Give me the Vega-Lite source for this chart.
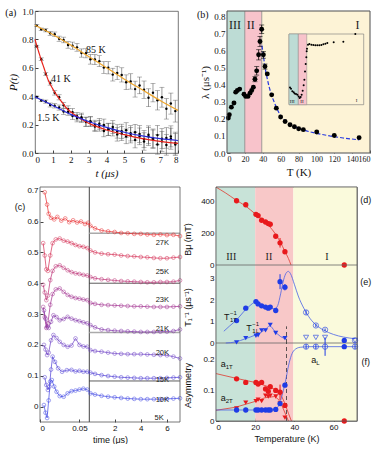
{
"$schema":"https://vega.github.io/schema/vega-lite/v6.json",
"padding":{"left":4,"top":6,"right":0,"bottom":0},
"background":"white",
"config":{
 "view":{"stroke":"#555","strokeWidth":0.8},
 "axis":{"grid":false,"domain":false,"labelOverlap":false,"labelFont":"Liberation Sans","titleFont":"Liberation Sans","labelFontSize":8,"titleFontSize":9,"titleFontWeight":"normal","labelColor":"#111","titleColor":"#111","tickColor":"#444","tickSize":-3,"labelPadding":5,"titlePadding":3},
 "text":{"font":"Liberation Sans","color":"#111"}
},
"datasets":{
 "a":[
{"s":"85 K","t":0.1,"P":0.897,"e":0.007},{"s":"85 K","t":0.35,"P":0.871,"e":0.009},{"s":"85 K","t":0.6,"P":0.864,"e":0.011},{"s":"85 K","t":0.85,"P":0.843,"e":0.014},{"s":"85 K","t":1.1,"P":0.836,"e":0.016},{"s":"85 K","t":1.35,"P":0.805,"e":0.018},{"s":"85 K","t":1.6,"P":0.796,"e":0.02},{"s":"85 K","t":1.85,"P":0.761,"e":0.023},{"s":"85 K","t":2.1,"P":0.756,"e":0.025},{"s":"85 K","t":2.35,"P":0.744,"e":0.027},{"s":"85 K","t":2.6,"P":0.704,"e":0.029},{"s":"85 K","t":2.85,"P":0.702,"e":0.032},{"s":"85 K","t":3.1,"P":0.66,"e":0.034},{"s":"85 K","t":3.35,"P":0.658,"e":0.036},{"s":"85 K","t":3.6,"P":0.647,"e":0.038},{"s":"85 K","t":3.85,"P":0.602,"e":0.041},{"s":"85 K","t":4.1,"P":0.6,"e":0.043},{"s":"85 K","t":4.35,"P":0.552,"e":0.045},{"s":"85 K","t":4.6,"P":0.564,"e":0.047},{"s":"85 K","t":4.85,"P":0.55,"e":0.05},{"s":"85 K","t":5.1,"P":0.498,"e":0.052},{"s":"85 K","t":5.35,"P":0.504,"e":0.054},{"s":"85 K","t":5.6,"P":0.45,"e":0.056},{"s":"85 K","t":5.85,"P":0.476,"e":0.059},{"s":"85 K","t":6.1,"P":0.446,"e":0.061},{"s":"85 K","t":6.35,"P":0.389,"e":0.063},{"s":"85 K","t":6.6,"P":0.425,"e":0.065},{"s":"85 K","t":6.85,"P":0.371,"e":0.068},{"s":"85 K","t":7.1,"P":0.393,"e":0.07},{"s":"85 K","t":7.35,"P":0.311,"e":0.072},{"s":"85 K","t":7.6,"P":0.348,"e":0.074},{"s":"85 K","t":7.85,"P":0.295,"e":0.077},
{"s":"41 K","t":0.1,"P":0.752,"e":0.007},{"s":"41 K","t":0.35,"P":0.661,"e":0.009},{"s":"41 K","t":0.6,"P":0.557,"e":0.011},{"s":"41 K","t":0.85,"P":0.492,"e":0.014},{"s":"41 K","t":1.1,"P":0.424,"e":0.016},{"s":"41 K","t":1.35,"P":0.392,"e":0.018},{"s":"41 K","t":1.6,"P":0.336,"e":0.02},{"s":"41 K","t":1.85,"P":0.309,"e":0.023},{"s":"41 K","t":2.1,"P":0.288,"e":0.025},{"s":"41 K","t":2.35,"P":0.246,"e":0.027},{"s":"41 K","t":2.6,"P":0.244,"e":0.029},{"s":"41 K","t":2.85,"P":0.218,"e":0.032},{"s":"41 K","t":3.1,"P":0.22,"e":0.034},{"s":"41 K","t":3.35,"P":0.187,"e":0.036},{"s":"41 K","t":3.6,"P":0.192,"e":0.038},{"s":"41 K","t":3.85,"P":0.155,"e":0.041},{"s":"41 K","t":4.1,"P":0.165,"e":0.043},{"s":"41 K","t":4.35,"P":0.165,"e":0.045},{"s":"41 K","t":4.6,"P":0.131,"e":0.047},{"s":"41 K","t":4.85,"P":0.153,"e":0.05},{"s":"41 K","t":5.1,"P":0.117,"e":0.052},{"s":"41 K","t":5.35,"P":0.139,"e":0.054},{"s":"41 K","t":5.6,"P":0.092,"e":0.056},{"s":"41 K","t":5.85,"P":0.117,"e":0.059},{"s":"41 K","t":6.1,"P":0.081,"e":0.061},{"s":"41 K","t":6.35,"P":0.116,"e":0.063},{"s":"41 K","t":6.6,"P":0.104,"e":0.065},{"s":"41 K","t":6.85,"P":0.06,"e":0.068},{"s":"41 K","t":7.1,"P":0.101,"e":0.07},{"s":"41 K","t":7.35,"P":0.057,"e":0.072},{"s":"41 K","t":7.6,"P":0.101,"e":0.074},{"s":"41 K","t":7.85,"P":0.06,"e":0.077},
{"s":"1.5 K","t":0.1,"P":0.394,"e":0.007},{"s":"1.5 K","t":0.35,"P":0.37,"e":0.009},{"s":"1.5 K","t":0.6,"P":0.362,"e":0.011},{"s":"1.5 K","t":0.85,"P":0.338,"e":0.014},{"s":"1.5 K","t":1.1,"P":0.333,"e":0.016},{"s":"1.5 K","t":1.35,"P":0.32,"e":0.018},{"s":"1.5 K","t":1.6,"P":0.292,"e":0.02},{"s":"1.5 K","t":1.85,"P":0.289,"e":0.023},{"s":"1.5 K","t":2.1,"P":0.26,"e":0.025},{"s":"1.5 K","t":2.35,"P":0.259,"e":0.027},{"s":"1.5 K","t":2.6,"P":0.252,"e":0.029},{"s":"1.5 K","t":2.85,"P":0.221,"e":0.032},{"s":"1.5 K","t":3.1,"P":0.224,"e":0.034},{"s":"1.5 K","t":3.35,"P":0.195,"e":0.036},{"s":"1.5 K","t":3.6,"P":0.206,"e":0.038},{"s":"1.5 K","t":3.85,"P":0.198,"e":0.041},{"s":"1.5 K","t":4.1,"P":0.167,"e":0.043},{"s":"1.5 K","t":4.35,"P":0.183,"e":0.045},{"s":"1.5 K","t":4.6,"P":0.152,"e":0.047},{"s":"1.5 K","t":4.85,"P":0.137,"e":0.05},{"s":"1.5 K","t":5.1,"P":0.161,"e":0.052},{"s":"1.5 K","t":5.35,"P":0.125,"e":0.054},{"s":"1.5 K","t":5.6,"P":0.146,"e":0.056},{"s":"1.5 K","t":5.85,"P":0.134,"e":0.059},{"s":"1.5 K","t":6.1,"P":0.098,"e":0.061},{"s":"1.5 K","t":6.35,"P":0.128,"e":0.063},{"s":"1.5 K","t":6.6,"P":0.097,"e":0.065},{"s":"1.5 K","t":6.85,"P":0.126,"e":0.068},{"s":"1.5 K","t":7.1,"P":0.082,"e":0.07},{"s":"1.5 K","t":7.35,"P":0.106,"e":0.072},{"s":"1.5 K","t":7.6,"P":0.117,"e":0.074},{"s":"1.5 K","t":7.85,"P":0.07,"e":0.077}
 ],
 "afit":[
{"s":"85 K","t":0,"P":0.9},{"s":"85 K","t":1,"P":0.835},{"s":"85 K","t":2,"P":0.76},{"s":"85 K","t":3,"P":0.68},{"s":"85 K","t":4,"P":0.6},{"s":"85 K","t":5,"P":0.52},{"s":"85 K","t":6,"P":0.445},{"s":"85 K","t":7,"P":0.37},{"s":"85 K","t":8,"P":0.3},
{"s":"41 K","t":0,"P":0.8},{"s":"41 K","t":0.1,"P":0.755},{"s":"41 K","t":0.2,"P":0.715},{"s":"41 K","t":0.35,"P":0.655},{"s":"41 K","t":0.5,"P":0.6},{"s":"41 K","t":0.75,"P":0.51},{"s":"41 K","t":1,"P":0.45},{"s":"41 K","t":1.25,"P":0.4},{"s":"41 K","t":1.5,"P":0.36},{"s":"41 K","t":1.77,"P":0.315},{"s":"41 K","t":2.1,"P":0.28},{"s":"41 K","t":2.5,"P":0.244},{"s":"41 K","t":3,"P":0.21},{"s":"41 K","t":3.5,"P":0.184},{"s":"41 K","t":4,"P":0.162},{"s":"41 K","t":5,"P":0.129},{"s":"41 K","t":6,"P":0.101},{"s":"41 K","t":7,"P":0.082},{"s":"41 K","t":8,"P":0.068},
{"s":"1.5 K","t":0,"P":0.395},{"s":"1.5 K","t":1,"P":0.335},{"s":"1.5 K","t":2,"P":0.272},{"s":"1.5 K","t":3,"P":0.222},{"s":"1.5 K","t":4,"P":0.18},{"s":"1.5 K","t":5,"P":0.146},{"s":"1.5 K","t":6,"P":0.12},{"s":"1.5 K","t":7,"P":0.101},{"s":"1.5 K","t":8,"P":0.088}
 ],
 "bpts":[
{"T":1.5,"L":0.205,"e":0},{"T":2.6,"L":0.224,"e":0},{"T":4.9,"L":0.269,"e":0},{"T":7.8,"L":0.293,"e":0},{"T":9.7,"L":0.357,"e":0},{"T":11.6,"L":0.367,"e":0},{"T":14.2,"L":0.375,"e":0},{"T":19,"L":0.345,"e":0},{"T":20.9,"L":0.332,"e":0},{"T":23.5,"L":0.332,"e":0},{"T":25.7,"L":0.351,"e":0},{"T":27.6,"L":0.367,"e":0},{"T":29.5,"L":0.386,"e":0},{"T":31.3,"L":0.433,"e":0.015},{"T":33.2,"L":0.482,"e":0.025},{"T":35.4,"L":0.576,"e":0.03},{"T":36.9,"L":0.654,"e":0.03},{"T":38.8,"L":0.726,"e":0.025},{"T":40.7,"L":0.576,"e":0.02},{"T":42.5,"L":0.507,"e":0.015},{"T":45.1,"L":0.464,"e":0},{"T":50,"L":0.341,"e":0},{"T":55.2,"L":0.263,"e":0},{"T":60,"L":0.211,"e":0},{"T":65,"L":0.185,"e":0},{"T":70.5,"L":0.166,"e":0},{"T":75.4,"L":0.154,"e":0},{"T":80.2,"L":0.142,"e":0},{"T":85.4,"L":0.137,"e":0},{"T":100.4,"L":0.123,"e":0},{"T":120,"L":0.103,"e":0},{"T":147.8,"L":0.09,"e":0}
 ],
 "bfit":[
{"T":39,"L":0.63},{"T":40,"L":0.6},{"T":42,"L":0.52},{"T":44,"L":0.46},{"T":47,"L":0.39},{"T":50,"L":0.335},{"T":55,"L":0.27},{"T":60,"L":0.215},{"T":65,"L":0.19},{"T":70,"L":0.17},{"T":80,"L":0.145},{"T":90,"L":0.128},{"T":100,"L":0.115},{"T":115,"L":0.1},{"T":130,"L":0.088},{"T":148,"L":0.077}
 ],
 "binset":[
{"T":2.1,"P":0.396},{"T":4.3,"P":0.381},{"T":7.1,"P":0.351},{"T":10,"P":0.34},{"T":12.1,"P":0.328},{"T":15,"P":0.32},{"T":17.9,"P":0.313},{"T":20.7,"P":0.294},{"T":22.9,"P":0.275},{"T":25,"P":0.287},{"T":27.1,"P":0.313},{"T":29.3,"P":0.358},{"T":31.4,"P":0.419},{"T":32.9,"P":0.483},{"T":34.3,"P":0.577},{"T":35.7,"P":0.66},{"T":37.1,"P":0.736},{"T":37.9,"P":0.804},{"T":38.6,"P":0.834},{"T":40.7,"P":0.879},{"T":43.6,"P":0.887},{"T":47.9,"P":0.879},{"T":52.1,"P":0.875},{"T":56.4,"P":0.872},{"T":60.7,"P":0.872},{"T":65,"P":0.872},{"T":69.3,"P":0.875},{"T":73.6,"P":0.883},{"T":77.9,"P":0.891},{"T":82.1,"P":0.898},{"T":95.7,"P":0.906},{"T":116.4,"P":0.913},{"T":142,"P":1.0}
 ],
 "c":[
{"s":"27K","t":0.006,"v":0.695},{"s":"27K","t":0.009,"v":0.655},{"s":"27K","t":0.011,"v":0.625},{"s":"27K","t":0.014,"v":0.612},{"s":"27K","t":0.018,"v":0.607},{"s":"27K","t":0.022,"v":0.615},{"s":"27K","t":0.027,"v":0.603},{"s":"27K","t":0.032,"v":0.61},{"s":"27K","t":0.037,"v":0.598},{"s":"27K","t":0.042,"v":0.604},{"s":"27K","t":0.047,"v":0.597},{"s":"27K","t":0.052,"v":0.6},{"s":"27K","t":0.057,"v":0.592},{"s":"27K","t":0.061,"v":0.596},{"s":"27K","t":0.15,"v":0.586},{"s":"27K","t":0.5,"v":0.578},{"s":"27K","t":1,"v":0.571},{"s":"27K","t":1.5,"v":0.568},{"s":"27K","t":2,"v":0.566},{"s":"27K","t":2.5,"v":0.563},{"s":"27K","t":3,"v":0.562},{"s":"27K","t":3.5,"v":0.56},{"s":"27K","t":4,"v":0.56},{"s":"27K","t":4.5,"v":0.558},{"s":"27K","t":5,"v":0.557},{"s":"27K","t":5.5,"v":0.558},{"s":"27K","t":6,"v":0.556},{"s":"27K","t":6.5,"v":0.557},{"s":"27K","t":7,"v":0.553},
{"s":"25K","t":0.004,"v":0.53},{"s":"25K","t":0.006,"v":0.49},{"s":"25K","t":0.008,"v":0.445},{"s":"25K","t":0.01,"v":0.44},{"s":"25K","t":0.013,"v":0.49},{"s":"25K","t":0.016,"v":0.53},{"s":"25K","t":0.02,"v":0.542},{"s":"25K","t":0.025,"v":0.545},{"s":"25K","t":0.03,"v":0.538},{"s":"25K","t":0.035,"v":0.535},{"s":"25K","t":0.04,"v":0.53},{"s":"25K","t":0.045,"v":0.524},{"s":"25K","t":0.05,"v":0.52},{"s":"25K","t":0.055,"v":0.518},{"s":"25K","t":0.06,"v":0.514},{"s":"25K","t":0.15,"v":0.506},{"s":"25K","t":0.5,"v":0.5},{"s":"25K","t":1,"v":0.496},{"s":"25K","t":1.5,"v":0.494},{"s":"25K","t":2,"v":0.493},{"s":"25K","t":2.5,"v":0.49},{"s":"25K","t":3,"v":0.488},{"s":"25K","t":3.5,"v":0.487},{"s":"25K","t":4,"v":0.485},{"s":"25K","t":4.5,"v":0.484},{"s":"25K","t":5,"v":0.482},{"s":"25K","t":5.5,"v":0.481},{"s":"25K","t":6,"v":0.481},{"s":"25K","t":6.5,"v":0.483},{"s":"25K","t":7,"v":0.485},
{"s":"23K","t":0.004,"v":0.395},{"s":"23K","t":0.006,"v":0.37},{"s":"23K","t":0.008,"v":0.345},{"s":"23K","t":0.01,"v":0.36},{"s":"23K","t":0.013,"v":0.41},{"s":"23K","t":0.016,"v":0.44},{"s":"23K","t":0.02,"v":0.455},{"s":"23K","t":0.025,"v":0.458},{"s":"23K","t":0.03,"v":0.45},{"s":"23K","t":0.035,"v":0.442},{"s":"23K","t":0.04,"v":0.436},{"s":"23K","t":0.045,"v":0.432},{"s":"23K","t":0.05,"v":0.43},{"s":"23K","t":0.055,"v":0.427},{"s":"23K","t":0.06,"v":0.425},{"s":"23K","t":0.15,"v":0.42},{"s":"23K","t":0.5,"v":0.416},{"s":"23K","t":1,"v":0.413},{"s":"23K","t":1.5,"v":0.411},{"s":"23K","t":2,"v":0.409},{"s":"23K","t":2.5,"v":0.407},{"s":"23K","t":3,"v":0.406},{"s":"23K","t":3.5,"v":0.405},{"s":"23K","t":4,"v":0.404},{"s":"23K","t":4.5,"v":0.403},{"s":"23K","t":5,"v":0.403},{"s":"23K","t":5.5,"v":0.404},{"s":"23K","t":6,"v":0.404},{"s":"23K","t":6.5,"v":0.405},{"s":"23K","t":7,"v":0.409},
{"s":"21K","t":0.004,"v":0.323},{"s":"21K","t":0.006,"v":0.29},{"s":"21K","t":0.008,"v":0.255},{"s":"21K","t":0.01,"v":0.27},{"s":"21K","t":0.013,"v":0.33},{"s":"21K","t":0.016,"v":0.365},{"s":"21K","t":0.02,"v":0.38},{"s":"21K","t":0.025,"v":0.383},{"s":"21K","t":0.03,"v":0.372},{"s":"21K","t":0.035,"v":0.362},{"s":"21K","t":0.04,"v":0.356},{"s":"21K","t":0.045,"v":0.352},{"s":"21K","t":0.05,"v":0.35},{"s":"21K","t":0.055,"v":0.347},{"s":"21K","t":0.06,"v":0.345},{"s":"21K","t":0.15,"v":0.336},{"s":"21K","t":0.5,"v":0.333},{"s":"21K","t":1,"v":0.33},{"s":"21K","t":1.5,"v":0.329},{"s":"21K","t":2,"v":0.328},{"s":"21K","t":2.5,"v":0.327},{"s":"21K","t":3,"v":0.326},{"s":"21K","t":3.5,"v":0.325},{"s":"21K","t":4,"v":0.325},{"s":"21K","t":4.5,"v":0.324},{"s":"21K","t":5,"v":0.323},{"s":"21K","t":5.5,"v":0.323},{"s":"21K","t":6,"v":0.323},{"s":"21K","t":6.5,"v":0.324},{"s":"21K","t":7,"v":0.325},
{"s":"20K","t":0.005,"v":0.312},{"s":"20K","t":0.007,"v":0.285},{"s":"20K","t":0.009,"v":0.258},{"s":"20K","t":0.011,"v":0.255},{"s":"20K","t":0.014,"v":0.275},{"s":"20K","t":0.017,"v":0.296},{"s":"20K","t":0.021,"v":0.29},{"s":"20K","t":0.025,"v":0.28},{"s":"20K","t":0.03,"v":0.284},{"s":"20K","t":0.035,"v":0.291},{"s":"20K","t":0.04,"v":0.285},{"s":"20K","t":0.045,"v":0.28},{"s":"20K","t":0.05,"v":0.277},{"s":"20K","t":0.055,"v":0.273},{"s":"20K","t":0.06,"v":0.27},{"s":"20K","t":0.15,"v":0.264},{"s":"20K","t":0.5,"v":0.257},{"s":"20K","t":1,"v":0.25},{"s":"20K","t":1.5,"v":0.248},{"s":"20K","t":2,"v":0.246},{"s":"20K","t":2.5,"v":0.245},{"s":"20K","t":3,"v":0.244},{"s":"20K","t":3.5,"v":0.243},{"s":"20K","t":4,"v":0.242},{"s":"20K","t":4.5,"v":0.242},{"s":"20K","t":5,"v":0.242},{"s":"20K","t":5.5,"v":0.243},{"s":"20K","t":6,"v":0.243},{"s":"20K","t":6.5,"v":0.245},{"s":"20K","t":7,"v":0.25},
{"s":"15K","t":0.005,"v":0.2},{"s":"15K","t":0.007,"v":0.185},{"s":"15K","t":0.009,"v":0.167},{"s":"15K","t":0.011,"v":0.175},{"s":"15K","t":0.014,"v":0.215},{"s":"15K","t":0.017,"v":0.232},{"s":"15K","t":0.021,"v":0.222},{"s":"15K","t":0.025,"v":0.21},{"s":"15K","t":0.03,"v":0.2},{"s":"15K","t":0.035,"v":0.194},{"s":"15K","t":0.04,"v":0.198},{"s":"15K","t":0.045,"v":0.221},{"s":"15K","t":0.05,"v":0.2},{"s":"15K","t":0.055,"v":0.195},{"s":"15K","t":0.06,"v":0.194},{"s":"15K","t":0.15,"v":0.183},{"s":"15K","t":0.5,"v":0.18},{"s":"15K","t":1,"v":0.178},{"s":"15K","t":1.5,"v":0.175},{"s":"15K","t":2,"v":0.172},{"s":"15K","t":2.5,"v":0.171},{"s":"15K","t":3,"v":0.17},{"s":"15K","t":3.5,"v":0.17},{"s":"15K","t":4,"v":0.17},{"s":"15K","t":4.5,"v":0.169},{"s":"15K","t":5,"v":0.168},{"s":"15K","t":5.5,"v":0.167},{"s":"15K","t":6,"v":0.166},{"s":"15K","t":6.5,"v":0.162},{"s":"15K","t":7,"v":0.156},
{"s":"10K","t":0.006,"v":0.095},{"s":"10K","t":0.008,"v":0.07},{"s":"10K","t":0.01,"v":0.054},{"s":"10K","t":0.012,"v":0.065},{"s":"10K","t":0.014,"v":0.12},{"s":"10K","t":0.016,"v":0.162},{"s":"10K","t":0.019,"v":0.145},{"s":"10K","t":0.023,"v":0.124},{"s":"10K","t":0.028,"v":0.113},{"s":"10K","t":0.034,"v":0.118},{"s":"10K","t":0.04,"v":0.119},{"s":"10K","t":0.045,"v":0.114},{"s":"10K","t":0.05,"v":0.116},{"s":"10K","t":0.055,"v":0.113},{"s":"10K","t":0.06,"v":0.113},{"s":"10K","t":0.15,"v":0.11},{"s":"10K","t":0.5,"v":0.106},{"s":"10K","t":1,"v":0.102},{"s":"10K","t":1.5,"v":0.099},{"s":"10K","t":2,"v":0.097},{"s":"10K","t":2.5,"v":0.095},{"s":"10K","t":3,"v":0.094},{"s":"10K","t":3.5,"v":0.093},{"s":"10K","t":4,"v":0.092},{"s":"10K","t":4.5,"v":0.092},{"s":"10K","t":5,"v":0.092},{"s":"10K","t":5.5,"v":0.092},{"s":"10K","t":6,"v":0.093},{"s":"10K","t":6.5,"v":0.094},{"s":"10K","t":7,"v":0.095},
{"s":"5K","t":0.005,"v":0.005},{"s":"5K","t":0.007,"v":-0.02},{"s":"5K","t":0.009,"v":-0.037},{"s":"5K","t":0.011,"v":0.02},{"s":"5K","t":0.013,"v":0.081},{"s":"5K","t":0.015,"v":0.086},{"s":"5K","t":0.018,"v":0.065},{"s":"5K","t":0.021,"v":0.048},{"s":"5K","t":0.025,"v":0.034},{"s":"5K","t":0.03,"v":0.032},{"s":"5K","t":0.035,"v":0.043},{"s":"5K","t":0.04,"v":0.05},{"s":"5K","t":0.045,"v":0.052},{"s":"5K","t":0.05,"v":0.055},{"s":"5K","t":0.055,"v":0.058},{"s":"5K","t":0.06,"v":0.055},{"s":"5K","t":0.15,"v":0.043},{"s":"5K","t":0.5,"v":0.039},{"s":"5K","t":1,"v":0.035},{"s":"5K","t":1.5,"v":0.032},{"s":"5K","t":2,"v":0.03},{"s":"5K","t":2.5,"v":0.028},{"s":"5K","t":3,"v":0.026},{"s":"5K","t":3.5,"v":0.025},{"s":"5K","t":4,"v":0.024},{"s":"5K","t":4.5,"v":0.024},{"s":"5K","t":5,"v":0.024},{"s":"5K","t":5.5,"v":0.024},{"s":"5K","t":6,"v":0.025},{"s":"5K","t":6.5,"v":0.026},{"s":"5K","t":7,"v":0.027}
 ],
 "chl":[{"v":0.562,"k":"g"},{"v":0.4,"k":"b"},{"v":0.24,"k":"g"},{"v":0.083,"k":"b"}],
 "clab":[{"t":5.65,"v":0.531,"txt":"27K"},{"t":5.65,"v":0.438,"txt":"25K"},{"t":5.65,"v":0.347,"txt":"23K"},{"t":5.65,"v":0.253,"txt":"21K"},{"t":5.65,"v":0.173,"txt":"20K"},{"t":5.65,"v":0.086,"txt":"15K"},{"t":5.65,"v":0.021,"txt":"10K"},{"t":5.4,"v":-0.037,"txt":"5K"}],
 "bands":[{"a":0,"b":20,"r":"r3"},{"a":20,"b":39.5,"r":"r2"},{"a":39.5,"b":72,"r":"r1"}],
 "dpts":[{"T":10.5,"B":402,"e":0},{"T":15.2,"B":377,"e":0},{"T":20.4,"B":317,"e":0},{"T":21.5,"B":309,"e":0},{"T":23.3,"B":280,"e":0},{"T":25.3,"B":269,"e":0},{"T":26.7,"B":259,"e":0},{"T":27.7,"B":255,"e":0},{"T":30.5,"B":180,"e":0},{"T":32.7,"B":139,"e":30},{"T":35.2,"B":83,"e":0},{"T":65.5,"B":0,"e":0}],
 "dline":[{"T":0,"B":487},{"T":5,"B":450},{"T":10,"B":408},{"T":15,"B":370},{"T":20,"B":320},{"T":25,"B":270},{"T":30,"B":200},{"T":33,"B":140},{"T":35,"B":90},{"T":37,"B":40},{"T":38.3,"B":0}],
 "epts":[
{"T":10.5,"v":1.05,"k":"c","e":0},{"T":15.2,"v":1.63,"k":"c","e":0},{"T":20.4,"v":1.94,"k":"c","e":0},{"T":21.5,"v":1.83,"k":"c","e":0},{"T":23.3,"v":1.74,"k":"c","e":0},{"T":25.3,"v":1.68,"k":"c","e":0},{"T":26.7,"v":1.63,"k":"c","e":0},{"T":27.7,"v":1.68,"k":"c","e":0},{"T":30.5,"v":1.52,"k":"c","e":0},{"T":32.7,"v":2.87,"k":"c","e":0.35},{"T":35.2,"v":2.61,"k":"c","e":0.15},{"T":65.5,"v":0.12,"k":"c","e":0},
{"T":46,"v":1.43,"k":"co","e":0.1},{"T":51,"v":0.82,"k":"co","e":0.08},{"T":55.7,"v":0.62,"k":"co","e":0.06},{"T":71,"v":0.12,"k":"co","e":0},
{"T":10.5,"v":0.03,"k":"t","e":0},{"T":15.2,"v":0.23,"k":"t","e":0},{"T":20.4,"v":0.34,"k":"t","e":0},{"T":21.5,"v":0.36,"k":"t","e":0},{"T":23.3,"v":0.59,"k":"t","e":0},{"T":25.3,"v":0.59,"k":"t","e":0},{"T":27.7,"v":0.85,"k":"t","e":0},{"T":30.5,"v":0.47,"k":"t","e":0},{"T":35.2,"v":0.23,"k":"t","e":0},
{"T":46,"v":0.26,"k":"to","e":0},{"T":51,"v":0.26,"k":"to","e":0},{"T":55.7,"v":0.26,"k":"to","e":0},{"T":71,"v":0.12,"k":"to","e":0}
 ],
 "eline":[
{"g":"u","T":4,"v":0.55},{"g":"u","T":7,"v":0.8},{"g":"u","T":10.5,"v":1.08},{"g":"u","T":14,"v":1.45},{"g":"u","T":17,"v":1.72},{"g":"u","T":20,"v":1.9},{"g":"u","T":22,"v":1.82},{"g":"u","T":25,"v":1.7},{"g":"u","T":28,"v":1.62},{"g":"u","T":30,"v":1.6},{"g":"u","T":31.5,"v":1.75},{"g":"u","T":33,"v":2.3},{"g":"u","T":34.5,"v":2.95},{"g":"u","T":36,"v":3.3},{"g":"u","T":37,"v":3.35},{"g":"u","T":38,"v":3.25},{"g":"u","T":40,"v":2.75},{"g":"u","T":42,"v":2.2},{"g":"u","T":45,"v":1.6},{"g":"u","T":48,"v":1.15},{"g":"u","T":51,"v":0.85},{"g":"u","T":55,"v":0.6},{"g":"u","T":60,"v":0.4},{"g":"u","T":65,"v":0.28},{"g":"u","T":71,"v":0.2},
{"g":"l","T":5,"v":0},{"g":"l","T":10,"v":0.05},{"g":"l","T":15,"v":0.2},{"g":"l","T":20,"v":0.37},{"g":"l","T":25,"v":0.62},{"g":"l","T":27.5,"v":0.8},{"g":"l","T":30,"v":0.55},{"g":"l","T":33,"v":0.3},{"g":"l","T":36,"v":0.18}
 ],
 "elab":[{"T":4.1,"v":1.2,"m":"T","sb":"1T","sp":"−1"},{"T":15.5,"v":0.7,"m":"T","sb":"1L","sp":"−1"}],
 "fpts":[
{"T":10.5,"v":0.138,"k":"a1","e":0},{"T":15.2,"v":0.126,"k":"a1","e":0},{"T":20.4,"v":0.126,"k":"a1","e":0},{"T":21.5,"v":0.121,"k":"a1","e":0},{"T":23.3,"v":0.126,"k":"a1","e":0},{"T":25.3,"v":0.105,"k":"a1","e":0},{"T":26.7,"v":0.097,"k":"a1","e":0},{"T":27.7,"v":0.112,"k":"a1","e":0},{"T":30.5,"v":0.1,"k":"a1","e":0},{"T":32.7,"v":0.094,"k":"a1","e":0.025},{"T":35.2,"v":0.051,"k":"a1","e":0},{"T":65.5,"v":0,"k":"a1","e":0},
{"T":10.5,"v":0.041,"k":"a2","e":0},{"T":15.2,"v":0.06,"k":"a2","e":0},{"T":20.4,"v":0.065,"k":"a2","e":0},{"T":21.5,"v":0.07,"k":"a2","e":0},{"T":23.3,"v":0.065,"k":"a2","e":0},{"T":25.3,"v":0.083,"k":"a2","e":0},{"T":26.7,"v":0.08,"k":"a2","e":0},{"T":27.7,"v":0.083,"k":"a2","e":0},{"T":30.5,"v":0.08,"k":"a2","e":0},{"T":32.7,"v":0.057,"k":"a2","e":0},{"T":35.2,"v":0.011,"k":"a2","e":0},
{"T":10.5,"v":0.036,"k":"L","e":0},{"T":15.2,"v":0.036,"k":"L","e":0},{"T":20.4,"v":0.036,"k":"L","e":0},{"T":21.5,"v":0.036,"k":"L","e":0},{"T":23.3,"v":0.036,"k":"L","e":0},{"T":25.3,"v":0.036,"k":"L","e":0},{"T":26.7,"v":0.036,"k":"L","e":0},{"T":27.7,"v":0.036,"k":"L","e":0},{"T":30.5,"v":0.038,"k":"L","e":0},{"T":32.7,"v":0.057,"k":"L","e":0},{"T":35.2,"v":0.117,"k":"L","e":0},{"T":65.5,"v":0.243,"k":"L","e":0},
{"T":46,"v":0.243,"k":"Lo","e":0.008},{"T":51,"v":0.243,"k":"Lo","e":0.008},{"T":55.7,"v":0.243,"k":"Lo","e":0.03},{"T":71,"v":0.243,"k":"Lo","e":0.008}
 ],
 "fline":[
{"g":"a1","T":0,"v":0.155},{"g":"a1","T":10,"v":0.14},{"g":"a1","T":20,"v":0.126},{"g":"a1","T":25,"v":0.116},{"g":"a1","T":30,"v":0.104},{"g":"a1","T":33,"v":0.088},{"g":"a1","T":35,"v":0.06},{"g":"a1","T":37,"v":0.025},{"g":"a1","T":38.5,"v":0},
{"g":"a2","T":0,"v":0.035},{"g":"a2","T":10,"v":0.045},{"g":"a2","T":20,"v":0.064},{"g":"a2","T":25,"v":0.076},{"g":"a2","T":30,"v":0.08},{"g":"a2","T":32,"v":0.07},{"g":"a2","T":34,"v":0.045},{"g":"a2","T":36,"v":0.015},{"g":"a2","T":37,"v":0},
{"g":"L","T":0,"v":0.036},{"g":"L","T":28,"v":0.036},{"g":"L","T":30,"v":0.038},{"g":"L","T":32,"v":0.05},{"g":"L","T":34,"v":0.09},{"g":"L","T":35.5,"v":0.13},{"g":"L","T":37,"v":0.18},{"g":"L","T":38.5,"v":0.215},{"g":"L","T":40,"v":0.232},{"g":"L","T":43,"v":0.241},{"g":"L","T":48,"v":0.243},{"g":"L","T":72,"v":0.243}
 ],
 "flab":[{"T":2.4,"v":0.187,"m":"a","sb":"1T"},{"T":2.4,"v":0.076,"m":"a","sb":"2T"},{"T":48.7,"v":0.2,"m":"a","sb":"L"}]
},
"concat":[
  {"width":143,"height":142,"layer":[
   {"data":{"name":"a"},"mark":{"type":"errorbar","ticks":true,"color":"#555","thickness":0.6},"encoding":{"x":{"field":"t","type":"quantitative","scale":{"domain":[0,8],"nice":false},"axis":{"values":[0,1,2,3,4,5,6,7,8],"tickCount":20,"labelOverlap":false,"format":"d","title":"t (μs)","labelFont":"Liberation Serif","titleFont":"Liberation Serif","labelFontSize":9,"titleFontSize":11,"titleFontStyle":"italic"}},"y":{"field":"P","type":"quantitative","scale":{"domain":[0,1],"nice":false},"axis":{"values":[0,0.2,0.4,0.6,0.8,1],"tickCount":20,"labelOverlap":false,"format":".1f","title":"P(t)","labelFont":"Liberation Serif","titleFont":"Liberation Serif","labelFontSize":9,"titleFontSize":11,"titleFontStyle":"italic"}},"yError":{"field":"e"}}},
   {"data":{"name":"a"},"mark":{"type":"circle","size":6,"color":"#000","opacity":1},"encoding":{"x":{"field":"t","type":"quantitative"},"y":{"field":"P","type":"quantitative"}}},
   {"data":{"name":"afit"},"mark":{"type":"line","strokeWidth":1.2,"interpolate":"monotone"},"encoding":{"x":{"field":"t","type":"quantitative"},"y":{"field":"P","type":"quantitative"},"color":{"field":"s","type":"nominal","scale":{"domain":["85 K","41 K","1.5 K"],"range":["#eea52a","#e8241c","#2a2ad8"]},"legend":null}}},
   {"data":{"values":[{"t":3.4,"P":0.725,"txt":"85 K"},{"t":1.44,"P":0.52,"txt":"41 K"},{"t":0.75,"P":0.244,"txt":"1.5 K"},{"t":-1.35,"P":0.985,"txt":"(a)"}]},"mark":{"type":"text","font":"Liberation Serif","fontSize":10,"color":"#111"},"encoding":{"x":{"field":"t","type":"quantitative"},"y":{"field":"P","type":"quantitative"},"text":{"field":"txt"}}}
  ]},
  {"width":154,"height":142,"view":{"stroke":null},"layer":[
   {"layer":[
    {"data":{"values":[{"a":0,"b":20,"r":"III"},{"a":20,"b":39,"r":"II"},{"a":39,"b":160,"r":"I"}]},"mark":{"type":"rect","stroke":"#888","strokeWidth":0.6},"encoding":{"x":{"field":"a","type":"quantitative","scale":{"domain":[0,160],"range":[11,154],"nice":false},"axis":{"values":[0,20,40,60,80,100,120,140,160],"tickCount":20,"labelOverlap":false,"format":"d","title":"T (K)","labelFont":"Liberation Serif","titleFont":"Liberation Serif","labelFontSize":8,"titleFontSize":11}},"x2":{"field":"b"},"fill":{"field":"r","type":"nominal","scale":{"domain":["III","II","I"],"range":["#bddcd5","#f8c3cb","#fdf3d6"]},"legend":null}}},
    {"data":{"name":"bfit"},"mark":{"type":"line","color":"#2638e0","strokeDash":[4,2],"strokeWidth":1.2},"encoding":{"x":{"field":"T","type":"quantitative"},"y":{"field":"L","type":"quantitative","scale":{"domain":[0,0.833],"nice":false},"axis":{"offset":-11,"values":[0,0.1,0.2,0.3,0.4,0.5,0.6,0.7,0.8],"tickCount":20,"labelOverlap":false,"format":".1f","title":"λ (μs⁻¹)","labelFont":"Liberation Serif","titleFont":"Liberation Serif","labelFontSize":9,"titleFontSize":11}}}},
    {"data":{"name":"bpts"},"transform":[{"filter":"datum.e > 0"}],"mark":{"type":"errorbar","ticks":true,"color":"#000","thickness":0.8},"encoding":{"x":{"field":"T","type":"quantitative"},"y":{"field":"L","type":"quantitative","title":"λ (μs⁻¹)"},"yError":{"field":"e"}}},
    {"data":{"name":"bpts"},"mark":{"type":"circle","size":24,"color":"#000","opacity":1},"encoding":{"x":{"field":"T","type":"quantitative"},"y":{"field":"L","type":"quantitative"}}},
    {"data":{"values":[{"T":9,"L":0.751,"txt":"III"},{"T":26.5,"L":0.751,"txt":"II"},{"T":146,"L":0.751,"txt":"I"}]},"mark":{"type":"text","font":"Liberation Serif","fontSize":12,"color":"#222"},"encoding":{"x":{"field":"T","type":"quantitative"},"y":{"field":"L","type":"quantitative"},"text":{"field":"txt"}}},
    {"data":{"values":[{"T":-27,"L":0.81,"txt":"(b)"}]},"mark":{"type":"text","font":"Liberation Serif","fontSize":10,"color":"#111"},"encoding":{"x":{"field":"T","type":"quantitative"},"y":{"field":"L","type":"quantitative"},"text":{"field":"txt"}}},
    {"data":{"values":[{"z":1}]},"mark":{"type":"rect","filled":false,"color":"#555","strokeWidth":0.8},"encoding":{"x":{"datum":0,"type":"quantitative"},"x2":{"datum":160}}}
   ]},
   {"layer":[
    {"data":{"values":[{"a":0,"b":160}]},"mark":{"type":"rect","fill":"#fdf3d6","stroke":"#777","strokeWidth":0.6},"encoding":{"x":{"field":"a","type":"quantitative","scale":{"domain":[0,160],"range":[73,147.7],"nice":false},"axis":{"orient":"bottom","offset":-48.3,"values":[0,20,40,60,80,100,120,140,160],"tickCount":20,"labelOverlap":false,"format":"d","labelFont":"Liberation Serif","labelFontSize":4,"labelPadding":3,"tickSize":-1.5,"title":"T (K)","titleFont":"Liberation Serif","titleFontSize":6,"titlePadding":1}},"x2":{"field":"b"},"y":{"datum":0.2,"type":"quantitative","scale":{"domain":[0.2,1],"range":[93.7,23],"nice":false,"zero":false},"axis":{"orient":"left","offset":-73,"values":[0.2,0.4,0.6,0.8,1],"tickCount":20,"labelOverlap":false,"format":"~g","labelFont":"Liberation Serif","labelFontSize":4,"labelPadding":3,"tickSize":-1.5,"title":"P(t = 0)","titleFont":"Liberation Serif","titleFontSize":5,"titlePadding":1}},"y2":{"datum":1}}},
    {"data":{"values":[{"a":0,"b":20,"r":"III"},{"a":20,"b":38,"r":"II"}]},"mark":{"type":"rect","stroke":"#888","strokeWidth":0.5},"encoding":{"x":{"field":"a","type":"quantitative"},"x2":{"field":"b"},"y":{"datum":0.2,"type":"quantitative"},"y2":{"datum":1},"fill":{"field":"r","type":"nominal","scale":{"domain":["III","II","I"],"range":["#bddcd5","#f8c3cb","#fdf3d6"]},"legend":null}}},
    {"data":{"name":"binset"},"mark":{"type":"circle","size":4,"color":"#000","opacity":1},"encoding":{"x":{"field":"T","type":"quantitative"},"y":{"field":"P","type":"quantitative"}}},
    {"data":{"values":[{"T":7,"P":0.245,"txt":"III"},{"T":27.8,"P":0.245,"txt":"II"},{"T":145,"P":0.255,"txt":"I"}]},"mark":{"type":"text","font":"Liberation Serif","fontSize":5,"color":"#222"},"encoding":{"x":{"field":"T","type":"quantitative"},"y":{"field":"P","type":"quantitative"},"text":{"field":"txt"}}}
   ]}
  ],"resolve":{"scale":{"x":"independent","y":"independent"}}},
  {"width":145,"height":235,"view":{"stroke":null},"layer":[
   {"data":{"values":[{"z":1}]},"mark":{"type":"rule","color":"#444","strokeWidth":1},"encoding":{"x":{"datum":0.0625,"type":"quantitative","scale":{"domain":[0,0.0625,7],"range":[5,54.3,145],"nice":false,"zero":false},"axis":{"values":[0,0.05,2,4,6],"tickCount":20,"labelOverlap":false,"format":"~g","title":"time (μs)"}}}},
   {"data":{"name":"chl"},"transform":[{"filter":"datum.k == 'g'"}],"mark":{"type":"rule","color":"#aaa","strokeWidth":1.5},"encoding":{"x":{"datum":0.0625,"type":"quantitative"},"x2":{"datum":7},"y":{"field":"v","type":"quantitative","scale":{"domain":[-0.05,0.712],"nice":false,"zero":false},"axis":{"offset":-5,"values":[0,0.1,0.2,0.3,0.4,0.5,0.6,0.7],"tickCount":20,"labelOverlap":false,"format":"~g","title":null}}}},
   {"data":{"name":"chl"},"transform":[{"filter":"datum.k == 'b'"}],"mark":{"type":"rule","color":"#333","strokeWidth":0.8},"encoding":{"x":{"datum":0.0625,"type":"quantitative"},"x2":{"datum":7},"y":{"field":"v","type":"quantitative"}}},
   {"data":{"name":"c"},"mark":{"type":"line","strokeWidth":0.7},"encoding":{"x":{"field":"t","type":"quantitative"},"y":{"field":"v","type":"quantitative"},"color":{"field":"s","type":"nominal","scale":{"domain":["27K","25K","23K","21K","20K","15K","10K","5K"],"range":["#e8262a","#d42a50","#bb2d72","#a02c8e","#8030a8","#6a3cc4","#4d3cd6","#3c44e4"]},"legend":null}}},
   {"data":{"name":"c"},"mark":{"type":"point","shape":"circle","size":14,"strokeWidth":0.7,"filled":false},"encoding":{"x":{"field":"t","type":"quantitative"},"y":{"field":"v","type":"quantitative"},"color":{"field":"s","type":"nominal"}}},
   {"data":{"name":"clab"},"mark":{"type":"text","fontSize":7.5,"color":"#222"},"encoding":{"x":{"field":"t","type":"quantitative"},"y":{"field":"v","type":"quantitative"},"text":{"field":"txt"}}},
   {"data":{"values":[{"t":-0.0254,"v":0.646,"txt":"(c)"}]},"mark":{"type":"text","fontSize":9,"color":"#111"},"encoding":{"x":{"field":"t","type":"quantitative"},"y":{"field":"v","type":"quantitative"},"text":{"field":"txt"}}},
   {"data":{"values":[{"z":1}]},"mark":{"type":"rect","filled":false,"color":"#555","strokeWidth":0.8},"encoding":{"x":{"datum":0,"type":"quantitative"},"x2":{"datum":7}}}
  ]},
  {"width":141,"height":234,"layer":[
   {"data":{"name":"bands"},"mark":{"type":"rect"},"encoding":{"x":{"field":"a","type":"quantitative","scale":{"domain":[0,72],"nice":false},"axis":{"values":[0,20,40,60],"tickCount":20,"labelOverlap":false,"format":"d","title":"Temperature (K)"}},"x2":{"field":"b"},"fill":{"field":"r","type":"nominal","scale":{"domain":["r3","r2","r1"],"range":["#c8e3d8","#f8c8c8","#fafadc"]},"legend":null}}},
   {"layer":[
    {"data":{"name":"dline"},"mark":{"type":"line","color":"#e0392e","strokeWidth":0.8,"interpolate":"monotone"},"encoding":{"x":{"field":"T","type":"quantitative"},"y":{"field":"B","type":"quantitative","scale":{"domain":[0,488],"range":[78,0],"nice":false},"axis":{"orient":"left","values":[0,200,400],"tickCount":20,"labelOverlap":false,"format":"d","title":"Bμ (mT)","titleX":-29,"titleY":52,"titleAngle":-90,"titleBaseline":"middle","titleAlign":"center"}}}},
    {"data":{"name":"dpts"},"transform":[{"filter":"datum.e > 0"}],"mark":{"type":"errorbar","color":"#e8191c","thickness":1},"encoding":{"x":{"field":"T","type":"quantitative"},"y":{"field":"B","type":"quantitative","title":"Bμ (mT)"},"yError":{"field":"e"}}},
    {"data":{"name":"dpts"},"mark":{"type":"circle","size":28,"color":"#e8191c","opacity":1},"encoding":{"x":{"field":"T","type":"quantitative"},"y":{"field":"B","type":"quantitative"}}},
    {"data":{"values":[{"T":7.8,"B":52,"txt":"III"},{"T":27,"B":52,"txt":"II"},{"T":56.6,"B":52,"txt":"I"}]},"mark":{"type":"text","font":"Liberation Serif","fontSize":10,"color":"#222"},"encoding":{"x":{"field":"T","type":"quantitative"},"y":{"field":"B","type":"quantitative"},"text":{"field":"txt"}}},
    {"data":{"values":[{"T":76.5,"B":404,"txt":"(d)"}]},"mark":{"type":"text","fontSize":9,"color":"#111"},"encoding":{"x":{"field":"T","type":"quantitative"},"y":{"field":"B","type":"quantitative"},"text":{"field":"txt"}}}
   ]},
   {"layer":[
    {"data":{"values":[{"y":0},{"y":3.65}]},"mark":{"type":"rule","color":"#666","strokeWidth":0.8},"encoding":{"y":{"field":"y","type":"quantitative","scale":{"domain":[0,3.65],"range":[156,78],"nice":false},"axis":{"orient":"left","values":[0,1,2,3],"tickCount":20,"labelOverlap":false,"format":"d","title":"T₁⁻¹ (μs⁻¹)","titleX":-29,"titleY":120,"titleAngle":-90,"titleBaseline":"middle","titleAlign":"center"}}}},
    {"data":{"values":[{"z":1}]},"mark":{"type":"rule","color":"#333","strokeWidth":0.8,"strokeDash":[4,3]},"encoding":{"x":{"datum":36,"type":"quantitative"},"y":{"datum":0,"type":"quantitative"},"y2":{"datum":0.78}}},
    {"data":{"name":"eline"},"mark":{"type":"line","color":"#4a62e6","strokeWidth":0.8,"interpolate":"monotone"},"encoding":{"x":{"field":"T","type":"quantitative"},"y":{"field":"v","type":"quantitative"},"detail":{"field":"g"}}},
    {"data":{"name":"epts"},"transform":[{"filter":"datum.e > 0"}],"mark":{"type":"errorbar","color":"#1f3ce6","thickness":1},"encoding":{"x":{"field":"T","type":"quantitative"},"y":{"field":"v","type":"quantitative","title":"T₁⁻¹ (μs⁻¹)"},"yError":{"field":"e"}}},
    {"data":{"name":"epts"},"transform":[{"filter":"datum.k == 'c'"}],"mark":{"type":"circle","size":28,"color":"#1f3ce6","opacity":1},"encoding":{"x":{"field":"T","type":"quantitative"},"y":{"field":"v","type":"quantitative"}}},
    {"data":{"name":"epts"},"transform":[{"filter":"datum.k == 'co'"}],"mark":{"type":"point","shape":"circle","size":28,"filled":false,"color":"#1f3ce6","strokeWidth":0.9},"encoding":{"x":{"field":"T","type":"quantitative"},"y":{"field":"v","type":"quantitative"}}},
    {"data":{"name":"epts"},"transform":[{"filter":"datum.k == 't'"}],"mark":{"type":"point","shape":"triangle-down","size":26,"filled":true,"opacity":1,"color":"#1f3ce6"},"encoding":{"x":{"field":"T","type":"quantitative"},"y":{"field":"v","type":"quantitative"}}},
    {"data":{"name":"epts"},"transform":[{"filter":"datum.k == 'to'"}],"mark":{"type":"point","shape":"triangle-down","size":26,"filled":false,"color":"#1f3ce6","strokeWidth":0.9},"encoding":{"x":{"field":"T","type":"quantitative"},"y":{"field":"v","type":"quantitative"}}},
    {"data":{"name":"elab"},"mark":{"type":"text","align":"left","baseline":"middle","fontSize":9,"color":"#111"},"encoding":{"x":{"field":"T","type":"quantitative"},"y":{"field":"v","type":"quantitative"},"text":{"field":"m"}}},
    {"data":{"name":"elab"},"mark":{"type":"text","align":"left","baseline":"middle","fontSize":6,"dx":6,"dy":3,"color":"#111"},"encoding":{"x":{"field":"T","type":"quantitative"},"y":{"field":"v","type":"quantitative"},"text":{"field":"sb"}}},
    {"data":{"name":"elab"},"mark":{"type":"text","align":"left","baseline":"middle","fontSize":6,"dx":6,"dy":-4,"color":"#111"},"encoding":{"x":{"field":"T","type":"quantitative"},"y":{"field":"v","type":"quantitative"},"text":{"field":"sp"}}},
    {"data":{"values":[{"T":76.5,"v":2.87,"txt":"(e)"}]},"mark":{"type":"text","fontSize":9,"color":"#111"},"encoding":{"x":{"field":"T","type":"quantitative"},"y":{"field":"v","type":"quantitative"},"text":{"field":"txt"}}}
   ]},
   {"layer":[
    {"data":{"values":[{"z":1}]},"mark":{"type":"rule","color":"#333","strokeWidth":0.8,"strokeDash":[4,3]},"encoding":{"x":{"datum":36,"type":"quantitative"},"y":{"datum":0,"type":"quantitative","scale":{"domain":[0,0.255],"range":[234,156],"nice":false},"axis":{"orient":"left","values":[0,0.1,0.2],"tickCount":20,"labelOverlap":false,"format":"~g","title":"Asymmetry","titleX":-29,"titleY":198,"titleAngle":-90,"titleBaseline":"middle","titleAlign":"center"}},"y2":{"datum":0.255}}},
    {"data":{"name":"fline"},"transform":[{"filter":"datum.g != 'L'"}],"mark":{"type":"line","color":"#e0392e","strokeWidth":0.8},"encoding":{"x":{"field":"T","type":"quantitative"},"y":{"field":"v","type":"quantitative"},"detail":{"field":"g"}}},
    {"data":{"name":"fline"},"transform":[{"filter":"datum.g == 'L'"}],"mark":{"type":"line","color":"#4a62e6","strokeWidth":0.8,"interpolate":"monotone"},"encoding":{"x":{"field":"T","type":"quantitative"},"y":{"field":"v","type":"quantitative"}}},
    {"data":{"name":"fpts"},"transform":[{"filter":"datum.e > 0 && datum.k == 'a1'"}],"mark":{"type":"errorbar","color":"#e8191c","thickness":1},"encoding":{"x":{"field":"T","type":"quantitative"},"y":{"field":"v","type":"quantitative","title":"Asymmetry"},"yError":{"field":"e"}}},
    {"data":{"name":"fpts"},"transform":[{"filter":"datum.e > 0 && datum.k == 'Lo'"}],"mark":{"type":"errorbar","color":"#1f3ce6","thickness":1},"encoding":{"x":{"field":"T","type":"quantitative"},"y":{"field":"v","type":"quantitative","title":"Asymmetry"},"yError":{"field":"e"}}},
    {"data":{"name":"fpts"},"transform":[{"filter":"datum.k == 'a1'"}],"mark":{"type":"circle","size":28,"color":"#e8191c","opacity":1},"encoding":{"x":{"field":"T","type":"quantitative"},"y":{"field":"v","type":"quantitative"}}},
    {"data":{"name":"fpts"},"transform":[{"filter":"datum.k == 'a2'"}],"mark":{"type":"point","shape":"triangle-down","size":26,"filled":true,"opacity":1,"color":"#e8191c"},"encoding":{"x":{"field":"T","type":"quantitative"},"y":{"field":"v","type":"quantitative"}}},
    {"data":{"name":"fpts"},"transform":[{"filter":"datum.k == 'L'"}],"mark":{"type":"circle","size":28,"color":"#1f3ce6","opacity":1},"encoding":{"x":{"field":"T","type":"quantitative"},"y":{"field":"v","type":"quantitative"}}},
    {"data":{"name":"fpts"},"transform":[{"filter":"datum.k == 'Lo'"}],"mark":{"type":"point","shape":"circle","size":28,"filled":false,"color":"#1f3ce6","strokeWidth":0.9},"encoding":{"x":{"field":"T","type":"quantitative"},"y":{"field":"v","type":"quantitative"}}},
    {"data":{"name":"flab"},"mark":{"type":"text","align":"left","baseline":"middle","fontSize":9,"color":"#111"},"encoding":{"x":{"field":"T","type":"quantitative"},"y":{"field":"v","type":"quantitative"},"text":{"field":"m"}}},
    {"data":{"name":"flab"},"mark":{"type":"text","align":"left","baseline":"middle","fontSize":6,"dx":5,"dy":3,"color":"#111"},"encoding":{"x":{"field":"T","type":"quantitative"},"y":{"field":"v","type":"quantitative"},"text":{"field":"sb"}}},
    {"data":{"values":[{"T":76.5,"v":0.194,"txt":"(f)"}]},"mark":{"type":"text","fontSize":9,"color":"#111"},"encoding":{"x":{"field":"T","type":"quantitative"},"y":{"field":"v","type":"quantitative"},"text":{"field":"txt"}}}
   ]},
   {"data":{"values":[{"z":1}]},"mark":{"type":"rect","filled":false,"color":"#555","strokeWidth":0.8},"encoding":{"x":{"datum":0,"type":"quantitative"},"x2":{"datum":72}}}
  ],"resolve":{"scale":{"y":"independent"}}}
],
"columns":2,
"spacing":{"row":34,"column":36},
"bounds":"flush",
"resolve":{"scale":{"color":"independent","fill":"independent"}}
}
